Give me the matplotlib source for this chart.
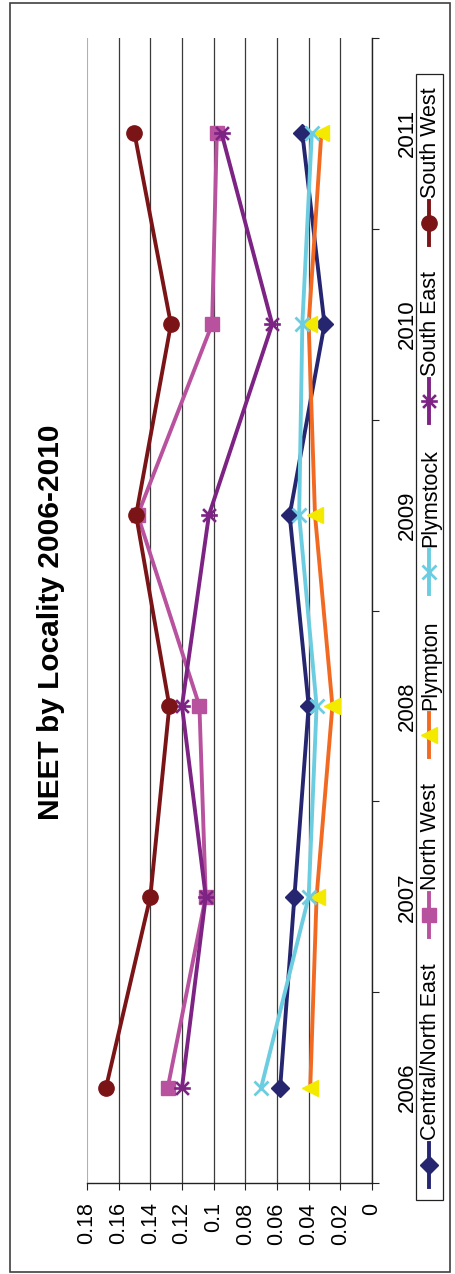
import numpy as np
import matplotlib
matplotlib.use('Agg')
import matplotlib.pyplot as plt
from matplotlib.path import Path
from matplotlib.patches import Rectangle

plt.rcParams['font.family'] = ['Liberation Sans', 'DejaVu Sans']

years = ['2006', '2007', '2008', '2009', '2010', '2011']
central_ne = [0.058, 0.049, 0.040, 0.052, 0.030, 0.044]
north_west = [0.129, 0.105, 0.109, 0.148, 0.101, 0.098]
plympton   = [0.039, 0.035, 0.025, 0.036, 0.040, 0.032]
plymstock  = [0.070, 0.040, 0.035, 0.046, 0.044, 0.038]
south_east = [0.120, 0.105, 0.120, 0.103, 0.063, 0.095]
south_west = [0.168, 0.140, 0.128, 0.149, 0.127, 0.150]

value_ticks = [0, 0.02, 0.04, 0.06, 0.08, 0.1, 0.12, 0.14, 0.16, 0.18]
value_labels = ['0', '0.02', '0.04', '0.06', '0.08', '0.1', '0.12', '0.14', '0.16', '0.18']

# asterisk as it looks turned on its side: X plus a horizontal bar
star = Path([(-1, -1), (1, 1), (-1, 1), (1, -1), (-1.3, 0), (1.3, 0)],
            [Path.MOVETO, Path.LINETO, Path.MOVETO, Path.LINETO, Path.MOVETO, Path.LINETO])

series = [
    ('Central/North East', central_ne, dict(color='#25266f', marker='D', ms=9.5, mfc='#25266f', mec='#25266f')),
    ('North West', north_west, dict(color='#b8529e', marker='s', ms=10.5, mfc='#b8529e', mec='#b8529e')),
    ('Plympton', plympton, dict(color='#f26a22', marker='<', ms=12, mfc='#f4ea00', mec='#f4ea00')),
    ('Plymstock', plymstock, dict(color='#6dcde0', marker='x', ms=10, mew=2, mec='#6dcde0')),
    ('South East', south_east, dict(color='#7d2384', marker=star, ms=12, mew=1.9, mec='#7d2384')),
    ('South West', south_west, dict(color='#7b1416', marker='o', ms=11, mfc='#7b1416', mec='#7b1416')),
]

W, H = 456, 1274
fig = plt.figure(figsize=(W / 100, H / 100), dpi=100)

ax = fig.add_axes([87 / W, 1 - 1183 / H, (372 - 87) / W, (1183 - 38) / H])
pos = np.arange(len(years))
for name, vals, style in series:
    ax.plot(vals, pos, lw=2.8, **style)

ax.set_xlim(0.18, 0)
ax.set_ylim(-0.5, len(years) - 0.5)

ax.set_xticks(value_ticks)
ax.set_xticklabels(value_labels, rotation=90, ha='center', va='top')
ax.tick_params(axis='x', direction='out', length=5, width=0.8, pad=9, labelsize=15.5, color='#222222')

ax.yaxis.tick_right()
ax.set_yticks(pos)
ax.set_yticklabels(years, rotation=90, ha='left', va='center')
ax.set_yticks(np.arange(-0.5, len(years)), minor=True)
ax.tick_params(axis='y', which='major', length=0, pad=18, labelsize=16)
ax.tick_params(axis='y', which='minor', direction='out', length=5, width=0.8, color='#222222')

ax.grid(axis='x', color='#3a3a3a', lw=0.9)
for gl, v in zip(ax.get_xgridlines(), value_ticks):
    if v == 0.18:
        gl.set_color('#b0b0b0')
        gl.set_linewidth(1.5)
ax.set_axisbelow(True)
ax.spines['top'].set_visible(False)
ax.spines['left'].set_visible(False)
for s in ('bottom', 'right'):
    ax.spines[s].set_color('#222222')
    ax.spines[s].set_linewidth(1.0)

# overlay in pixel units for title, frame and the sideways legend
ov = fig.add_axes([0, 0, 1, 1])
ov.set_xlim(0, W)
ov.set_ylim(H, 0)
ov.axis('off')

ov.add_patch(Rectangle((10, 3), 440, 1269, fill=False, ec='#404040', lw=1.2))
ov.text(51, 622, 'NEET by Locality 2006-2010', rotation=90, ha='center', va='center',
        fontsize=21.5, fontweight='bold')

ov.add_patch(Rectangle((416, 74), 27, 1126, fill=False, ec='#222222', lw=0.9))
key_y = [1165, 915, 735, 572, 401, 223]
for (name, vals, style), ky in zip(series, key_y):
    ov.plot([429.5, 429.5], [ky + 22, ky - 22], lw=2.8, **style, markevery=[])
    st = {k: v for k, v in style.items() if k != 'color'}
    ov.plot([429.5], [ky], ls='none', **st)
    ov.text(431, ky - 25, name, rotation=90, ha='center', va='bottom', fontsize=15.5)

fig.savefig('out.png', dpi=100)
